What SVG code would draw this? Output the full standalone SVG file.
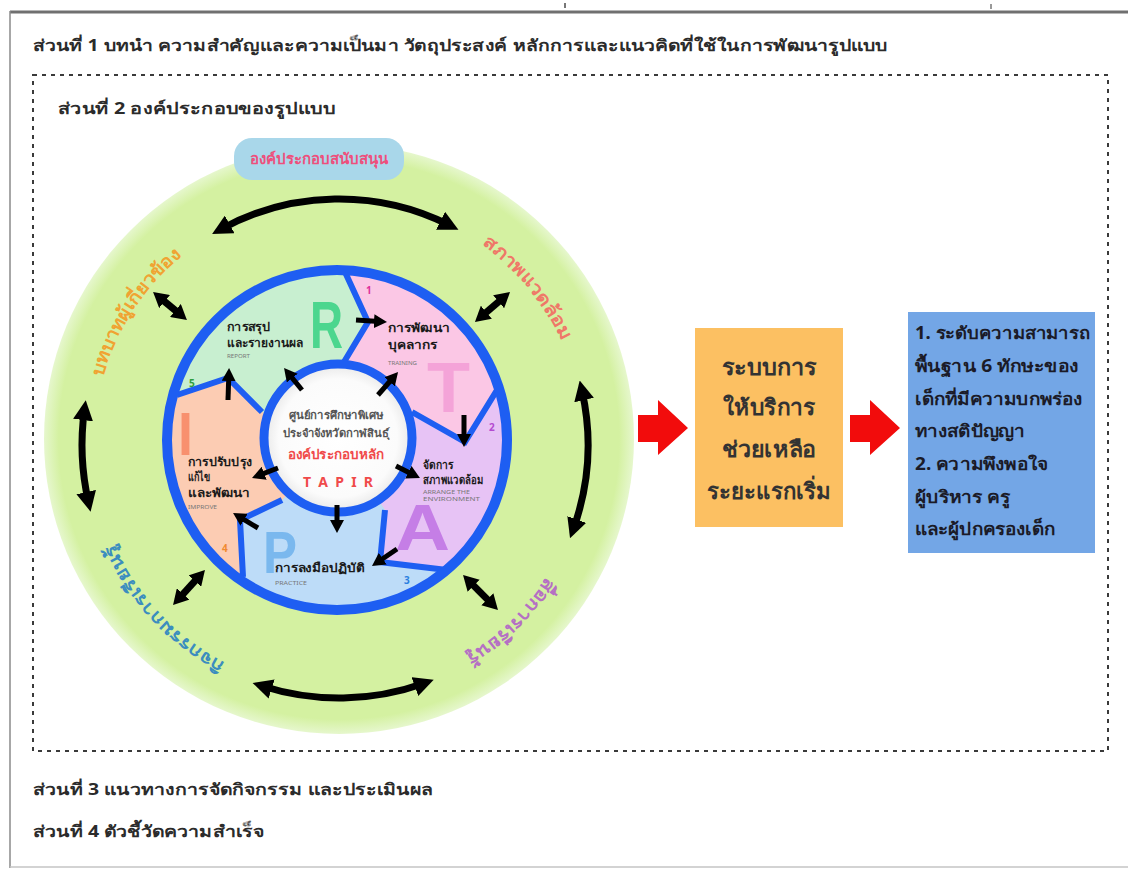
<svg xmlns="http://www.w3.org/2000/svg" width="1128" height="871" viewBox="0 0 1128 871">
<style>
text{font-family:"Noto Sans","DejaVu Sans",sans-serif;font-weight:bold}
.h{font-size:16px;fill:#2b2b2b}
.seg{font-size:12px;fill:#1a1a1a}
.en{font-size:6px;fill:#777;font-weight:normal}
.big{font-family:"Liberation Sans",Arial,sans-serif;font-weight:bold}
.num{font-size:10px}
.arc{font-size:18px}
.ln{fill:none;stroke:#000;stroke-width:7}
.lnb{fill:none;stroke:#000;stroke-width:7;marker-start:url(#hb);marker-end:url(#hb)}
.lns{fill:none;stroke:#000;stroke-width:7;marker-start:url(#hm);marker-end:url(#hm)}
.lni{fill:none;stroke:#000;stroke-width:5;marker-end:url(#hs)}
.bd{fill:none;stroke:#1e5ef2;stroke-width:6;stroke-linejoin:miter}
.box{font-size:22px;fill:#333}
.res{font-size:17px;fill:#1b1b28}
</style>
<defs>
<marker id="hb" viewBox="0 0 20 20" markerWidth="20" markerHeight="20" refX="10" refY="10" markerUnits="userSpaceOnUse" orient="auto-start-reverse"><path d="M0,0 L20,10 L0,20 z" fill="#000"/></marker>
<marker id="hm" viewBox="0 0 15 17" markerWidth="15" markerHeight="17" refX="6" refY="8.5" markerUnits="userSpaceOnUse" orient="auto-start-reverse"><path d="M0,0 L15,8.5 L0,17 z" fill="#000"/></marker>
<marker id="hs" viewBox="0 0 13 14" markerWidth="13" markerHeight="14" refX="5" refY="7" markerUnits="userSpaceOnUse" orient="auto"><path d="M0,0 L13,7 L0,14 z" fill="#000"/></marker>
<radialGradient id="gg" cx="0.5" cy="0.5" r="0.5">
<stop offset="0" stop-color="#d4f1a1"/><stop offset="0.95" stop-color="#d4f1a1"/><stop offset="1" stop-color="#e6f7cd"/>
</radialGradient>
<radialGradient id="wg" cx="0.5" cy="0.5" r="0.5">
<stop offset="0" stop-color="#ffffff"/><stop offset="0.8" stop-color="#fbfbfb"/><stop offset="1" stop-color="#e8e8e8"/>
</radialGradient>
<clipPath id="ring"><circle cx="337" cy="440" r="168"/></clipPath>
<path id="tp" d="M339,199 A246,246 0 1,1 339,691 A246,246 0 1,1 339,199"/>
</defs>

<rect width="1128" height="871" fill="#fff"/>
<g id="frame">
<line x1="10" y1="12" x2="1128" y2="12" stroke="#707070" stroke-width="3"/>
<line x1="10" y1="11" x2="10" y2="868" stroke="#8a8a8a" stroke-width="1.5"/>
<line x1="10" y1="867" x2="1128" y2="867" stroke="#c4c4c4" stroke-width="1.5"/>
<rect x="564" y="3" width="2" height="5" fill="#777"/>
<rect x="990" y="4" width="2" height="5" fill="#999"/>
<rect x="33" y="75" width="1075" height="676" fill="none" stroke="#3a3a3a" stroke-width="2" stroke-dasharray="4 5"/>
</g>

<g id="headings">
<text class="h" x="33" y="51" textLength="854" lengthAdjust="spacingAndGlyphs">ส่วนที่ 1 บทนำ ความสำคัญและความเป็นมา วัตถุประสงค์ หลักการและแนวคิดที่ใช้ในการพัฒนารูปแบบ</text>
<text class="h" x="58" y="114" textLength="277" lengthAdjust="spacingAndGlyphs">ส่วนที่ 2 องค์ประกอบของรูปแบบ</text>
<text class="h" x="33" y="795" textLength="400" lengthAdjust="spacingAndGlyphs">ส่วนที่ 3 แนวทางการจัดกิจกรรม และประเมินผล</text>
<text class="h" x="33" y="837" textLength="231" lengthAdjust="spacingAndGlyphs">ส่วนที่ 4 ตัวชี้วัดความสำเร็จ</text>
</g>

<g id="support-ring">
<circle cx="339" cy="439" r="295" fill="url(#gg)"/>
<rect x="234" y="138" width="170" height="42" rx="18" fill="#a9d7ea"/>
<text x="319" y="164" text-anchor="middle" font-size="15" fill="#ee4f7c" textLength="138" lengthAdjust="spacingAndGlyphs">องค์ประกอบสนับสนุน</text>
<text class="arc" fill="#f0a332"><textPath href="#tp" startOffset="1228" textLength="147" lengthAdjust="spacingAndGlyphs">บทบาทผู้เกี่ยวข้อง</textPath></text>
<text class="arc" fill="#ef7868"><textPath href="#tp" startOffset="152" textLength="127" lengthAdjust="spacingAndGlyphs">สภาพแวดล้อม</textPath></text>
<text class="arc" fill="#b56fc4"><textPath href="#tp" startOffset="526" textLength="113" lengthAdjust="spacingAndGlyphs">สื่อการเรียนรู้</textPath></text>
<text class="arc" fill="#3b8dbf"><textPath href="#tp" startOffset="891" textLength="166" lengthAdjust="spacingAndGlyphs">กิจกรรมการเรียนรู้</textPath></text>
</g>

<g id="tapir-ring">
<g clip-path="url(#ring)">
<polygon id="seg-R" fill="#c8efd0" points="337,440 262,412 228,378 177,395 82,427 80,202 303,181 345,272 368,322 344,362"/>
<polygon id="seg-T" fill="#fbc7e5" points="337,440 344,362 368,322 345,272 303,181 485,123 549,305 497,390 465,442 412,412"/>
<polygon id="seg-A" fill="#e7c3f5" points="337,440 412,412 465,442 497,390 549,305 687,434 546,582 447,570 380,562 385,510"/>
<polygon id="seg-P" fill="#bddcf8" points="337,440 385,510 380,562 447,570 546,582 443,774 248,677 243,577 240,520 282,500"/>
<polygon id="seg-I" fill="#fcccb3" points="337,440 282,500 240,520 243,577 248,677 44,632 82,427 177,395 228,378 262,412"/>
</g>
<text class="big" x="310" y="348" font-size="66" fill="#4cd68e" textLength="33" lengthAdjust="spacingAndGlyphs">R</text>
<text class="big" x="427" y="412" font-size="70" fill="#f4a3d8" textLength="43" lengthAdjust="spacingAndGlyphs">T</text>
<text class="big" x="395" y="550" font-size="64" fill="#c57ee6" textLength="55" lengthAdjust="spacingAndGlyphs">A</text>
<text class="big" x="263" y="573" font-size="60" fill="#7ab8ee" textLength="34" lengthAdjust="spacingAndGlyphs">P</text>
<text class="big" x="178" y="455" font-size="62" fill="#f8906e" textLength="15" lengthAdjust="spacingAndGlyphs">I</text>
<polyline class="bd" points="344,362 368,322 345,272"/>
<polyline class="bd" points="412,412 465,442 497,390"/>
<polyline class="bd" points="385,510 380,562 447,570"/>
<polyline class="bd" points="282,500 240,520 243,577"/>
<polyline class="bd" points="262,412 228,378 177,395"/>
<circle cx="337" cy="440" r="170" fill="none" stroke="#1e5ef2" stroke-width="10"/>
</g>

<g id="seg-labels">
<text class="seg" x="227" y="331" textLength="43" lengthAdjust="spacingAndGlyphs">การสรุป</text>
<text class="seg" x="227" y="347" textLength="76" lengthAdjust="spacingAndGlyphs">และรายงานผล</text>
<text class="en" x="227" y="358" textLength="23" lengthAdjust="spacingAndGlyphs">REPORT</text>
<text class="num" x="189" y="387" fill="#2e9e3e">5</text>
<text class="seg" x="388" y="332" textLength="62" lengthAdjust="spacingAndGlyphs">การพัฒนา</text>
<text class="seg" x="388" y="349" textLength="49" lengthAdjust="spacingAndGlyphs">บุคลากร</text>
<text class="en" x="388" y="365" textLength="29" lengthAdjust="spacingAndGlyphs">TRAINING</text>
<text class="num" x="366" y="294" fill="#e0309a">1</text>
<text class="seg" x="423" y="469" textLength="30" lengthAdjust="spacingAndGlyphs">จัดการ</text>
<text class="seg" x="423" y="484" textLength="60" lengthAdjust="spacingAndGlyphs">สภาพแวดล้อม</text>
<text class="en" x="423" y="494" textLength="47" lengthAdjust="spacingAndGlyphs">ARRANGE THE</text>
<text class="en" x="423" y="501" textLength="57" lengthAdjust="spacingAndGlyphs">ENVIRONMENT</text>
<text class="num" x="489" y="431" fill="#b44ad0">2</text>
<text class="seg" x="275" y="572" textLength="90" lengthAdjust="spacingAndGlyphs">การลงมือปฏิบัติ</text>
<text class="en" x="275" y="585" textLength="32" lengthAdjust="spacingAndGlyphs">PRACTICE</text>
<text class="num" x="404" y="584" fill="#2a7fe0">3</text>
<text class="seg" x="188" y="466" textLength="64" lengthAdjust="spacingAndGlyphs">การปรับปรุง</text>
<text class="seg" x="188" y="481" textLength="22" lengthAdjust="spacingAndGlyphs">แก้ไข</text>
<text class="seg" x="188" y="497" textLength="62" lengthAdjust="spacingAndGlyphs">และพัฒนา</text>
<text class="en" x="188" y="509" textLength="29" lengthAdjust="spacingAndGlyphs">IMPROVE</text>
<text class="num" x="222" y="552" fill="#f08a30">4</text>
</g>

<g id="core">
<circle cx="338" cy="438" r="74" fill="url(#wg)" stroke="#1e5ef2" stroke-width="9"/>
<text x="336" y="419" text-anchor="middle" font-size="11" fill="#555" font-weight="normal" textLength="95" lengthAdjust="spacingAndGlyphs">ศูนย์การศึกษาพิเศษ</text>
<text x="336" y="437" text-anchor="middle" font-size="11" fill="#555" font-weight="normal" textLength="107" lengthAdjust="spacingAndGlyphs">ประจำจังหวัดกาฬสินธุ์</text>
<text x="336" y="459" text-anchor="middle" font-size="13" fill="#f04a4a" textLength="97" lengthAdjust="spacingAndGlyphs">องค์ประกอบหลัก</text>
<text x="338" y="487" text-anchor="middle" font-size="14" fill="#f04a4a" textLength="70" lengthAdjust="spacing">T A P I R</text>
</g>

<g id="connectors">
<path class="lnb" d="M220.9,229.2 A246,246 0 0,1 449.5,225.2"/>
<path class="lnb" d="M581.9,390.3 A249,249 0 0,1 573.4,528.9"/>
<path class="lnb" d="M424.3,683.2 A253,253 0 0,1 262.1,686"/>
<path class="lnb" d="M88.4,501.9 A257,257 0 0,1 84.4,410.1"/>
<path class="lns" d="M160,297.7 L180,314.3"/>
<path class="lns" d="M503.2,297.9 L481.8,316.1"/>
<path class="lns" d="M198.9,576.6 L179.1,598.4"/>
<path class="lns" d="M469.4,581.4 L491.6,603.6"/>
<path class="lni" d="M302,390 L289.1,374.2"/>
<path class="lni" d="M378,395 L392.8,378"/>
<path class="lni" d="M396,466 L412.8,474.4"/>
<path class="lni" d="M278,468 L259.5,475.1"/>
<path class="lni" d="M337,505 L337,525"/>
<path class="lni" d="M356,320 L379,321.5"/>
<path class="lni" d="M464,415 L464,439"/>
<path class="lni" d="M397,549 L378.6,561.5"/>
<path class="lni" d="M258,528 L239.9,517.1"/>
<path class="lni" d="M228,400 L228.8,376"/>
<polygon fill="#f20c0c" points="638,415 658,415 658,400 688,428 658,455 658,442 638,442"/>
<polygon fill="#f20c0c" points="850,415 870,415 870,400 900,428 870,455 870,442 850,442"/>
</g>

<g id="service">
<rect x="695" y="328" width="148" height="199" fill="#fcc062"/>
<text class="box" x="769" y="375" text-anchor="middle" textLength="95" lengthAdjust="spacingAndGlyphs">ระบบการ</text>
<text class="box" x="769" y="415" text-anchor="middle" textLength="92" lengthAdjust="spacingAndGlyphs">ให้บริการ</text>
<text class="box" x="769" y="457" text-anchor="middle" textLength="94" lengthAdjust="spacingAndGlyphs">ช่วยเหลือ</text>
<text class="box" x="769" y="499" text-anchor="middle" textLength="124" lengthAdjust="spacingAndGlyphs">ระยะแรกเริ่ม</text>
</g>

<g id="outcome">
<rect x="908" y="312" width="187" height="241" fill="#73a6e6"/>
<text class="res" x="915" y="339" textLength="175" lengthAdjust="spacingAndGlyphs">1. ระดับความสามารถ</text>
<text class="res" x="915" y="372" textLength="163" lengthAdjust="spacingAndGlyphs">พื้นฐาน 6 ทักษะของ</text>
<text class="res" x="915" y="405" textLength="167" lengthAdjust="spacingAndGlyphs">เด็กที่มีความบกพร่อง</text>
<text class="res" x="915" y="437" textLength="110" lengthAdjust="spacingAndGlyphs">ทางสติปัญญา</text>
<text class="res" x="915" y="470" textLength="133" lengthAdjust="spacingAndGlyphs">2. ความพึงพอใจ</text>
<text class="res" x="915" y="503" textLength="95" lengthAdjust="spacingAndGlyphs">ผู้บริหาร ครู</text>
<text class="res" x="915" y="535" textLength="140" lengthAdjust="spacingAndGlyphs">และผู้ปกครองเด็ก</text>
</g>
</svg>
